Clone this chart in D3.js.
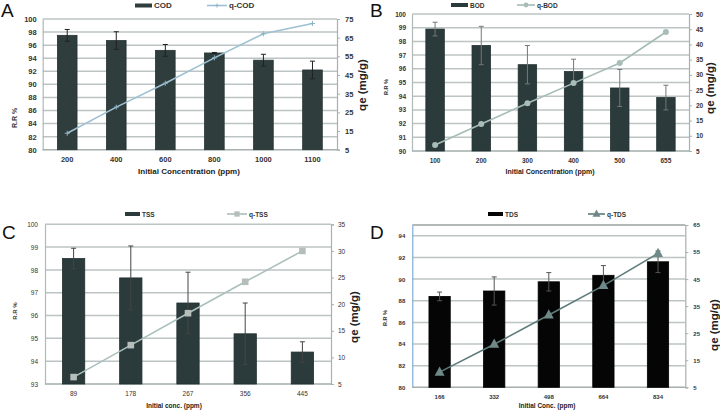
<!DOCTYPE html>
<html><head><meta charset="utf-8">
<script src="https://cdn.jsdelivr.net/npm/d3@7"></script>
<style>
html,body{margin:0;padding:0;background:#fff;}
svg{display:block;font-family:"Liberation Sans",Arial,sans-serif;}
</style></head>
<body>
<svg id="c" width="720" height="411"></svg>
<script>
// Panel A
const catsA = ["200","400","600","800","1000","1100"];
const codRR = [97.5, 96.7, 95.2, 94.8, 93.7, 92.2];
const codErr = [0.9, 1.35, 0.9, 0.08, 0.9, 1.35];
const qCOD = [13.8, 27.8, 40.6, 54.2, 67.1, 72.6];
const leftTicksA = [80,82,84,86,88,90,92,94,96,98,100];
const rightTicksA = [5,15,25,35,45,55,65,75];
// Panel B
const catsB = ["100","200","300","400","500","655"];
const bodRR = [98.9, 97.7, 96.3, 95.8, 94.6, 93.9];
const bodErr = [0.5, 1.4, 1.4, 0.9, 1.35, 0.9];
const qBOD = [7.0, 13.9, 20.7, 27.3, 33.9, 44.1];
const leftTicksB = [90,91,92,93,94,95,96,97,98,99,100];
const rightTicksB = [5,10,15,20,25,30,35,40,45,50];
// Panel C
const catsC = ["89","178","267","356","445"];
const tssRR = [98.5, 97.65, 96.55, 95.2, 94.4];
const tssErr = [0.45, 1.4, 1.35, 1.35, 0.45];
const qTSS = [6.3, 12.3, 18.3, 24.2, 30.0];
const leftTicksC = [93,94,95,96,97,98,99,100];
const rightTicksC = [5,10,15,20,25,30,35];
// Panel D
const catsD = ["166","332","498","664","834"];
const tdsRR = [88.4, 88.9, 89.75, 90.35, 91.6];
const tdsErr = [0.4, 1.3, 0.85, 0.9, 1.0];
const qTDS = [10.6, 20.9, 31.7, 42.6, 54.5];
const leftTicksD = [80,82,84,86,88,90,92,94];
const rightTicksD = [5,15,25,35,45,55,65];

const svg = d3.select("#c");
const fmt = d3.format("d");

function panel(o){
  const g = svg.append("g");
  const x = d3.scaleBand().domain(o.cats).range([o.x0,o.x1]).paddingInner(0).paddingOuter(0);
  const yL = d3.scaleLinear().domain(o.lDom).range([o.y1,o.y0]);
  const yR = d3.scaleLinear().domain(o.rDom).range([o.y1,o.y0]);
  // gridlines
  g.append("g").selectAll("line").data(o.lTicks).join("line")
    .attr("x1",o.x0).attr("x2",o.x1)
    .attr("y1",d=>yL(d)).attr("y2",d=>yL(d))
    .attr("stroke","#bcc4c4").attr("stroke-width",1.5);
  if(o.topLine){
    g.append("line").attr("x1",o.x0).attr("x2",o.x1).attr("y1",o.y0).attr("y2",o.y0)
      .attr("stroke","#9aa0a0").attr("stroke-width",1.5);
  }
  // left axis
  const la = d3.axisLeft(yL).tickValues(o.lTicks).tickFormat(fmt).tickSize(0).tickPadding(o.lPad);
  const lg = g.append("g").attr("transform",`translate(${o.x0},0)`).call(la);
  lg.select(".domain").attr("stroke",o.leftAxisColor||"#b0b8b8").attr("stroke-width",1.2);
  lg.selectAll("text").attr("font-size",o.tickFs).attr("font-weight",o.tickFw).attr("fill","#333");
  // right axis
  const ra = d3.axisRight(yR).tickValues(o.rTicks).tickFormat(fmt).tickSize(3).tickPadding(o.rPad);
  const rg = g.append("g").attr("transform",`translate(${o.x1},0)`).call(ra);
  rg.select(".domain").attr("stroke","#a8b0b0").attr("stroke-width",1.2);
  rg.selectAll(".tick line").attr("stroke","#a8b0b0");
  rg.selectAll("text").attr("font-size",o.tickFs).attr("font-weight",o.tickFw).attr("fill","#333");
  // bottom line
  g.append("line").attr("x1",o.x0).attr("x2",o.x1).attr("y1",o.y1).attr("y2",o.y1)
    .attr("stroke","#a8b0b0").attr("stroke-width",1.2);
  // x tick labels
  g.append("g").selectAll("text").data(o.cats).join("text")
    .attr("x",d=>x(d)+x.bandwidth()/2).attr("y",o.xLabY)
    .attr("text-anchor","middle").attr("font-size",o.tickFs).attr("font-weight",o.tickFw).attr("fill","#333")
    .text(d=>d);
  // bars
  const bw = x.bandwidth()*o.barFrac;
  g.append("g").selectAll("rect").data(o.cats).join("rect")
    .attr("x",d=>x(d)+x.bandwidth()/2-bw/2).attr("width",bw)
    .attr("y",(d,i)=>yL(o.rr[i])).attr("height",(d,i)=>yL(o.lDom[0])-yL(o.rr[i]))
    .attr("fill",o.barColor).attr("stroke",o.barStroke).attr("stroke-width",0.8);
  // error bars
  const eg = g.append("g").attr("stroke",o.errColor).attr("stroke-width",1);
  o.cats.forEach((c,i)=>{
    const cx = x(c)+x.bandwidth()/2;
    const t = yL(o.rr[i]+o.err[i]), b = yL(o.rr[i]-o.err[i]);
    eg.append("line").attr("x1",cx).attr("x2",cx).attr("y1",t).attr("y2",b);
    eg.append("line").attr("x1",cx-2.5).attr("x2",cx+2.5).attr("y1",t).attr("y2",t);
    eg.append("line").attr("x1",cx-2.5).attr("x2",cx+2.5).attr("y1",b).attr("y2",b);
  });
  // line
  const line = d3.line().x((d,i)=>x(o.cats[i])+x.bandwidth()/2).y(d=>yR(d));
  g.append("path").datum(o.q).attr("d",line).attr("fill","none")
    .attr("stroke",o.lineColor).attr("stroke-width",o.lineW);
  const mg = g.append("g");
  o.q.forEach((v,i)=>{
    const cx = x(o.cats[i])+x.bandwidth()/2, cy = yR(v);
    marker(mg,o.marker,cx,cy,o.markColor,o.markSize);
  });
  // legend
  const lgY = o.legY;
  g.append("rect").attr("x",o.legSw[0]).attr("y",lgY-2).attr("width",o.legSw[1]-o.legSw[0]).attr("height",4)
    .attr("fill",o.barColor);
  g.append("text").attr("x",o.legSw[1]+2).attr("y",lgY+2.8).attr("font-size",o.legFs).attr("font-weight","bold")
    .attr("fill","#333").text(o.barName);
  g.append("line").attr("x1",o.legLn[0]).attr("x2",o.legLn[1]).attr("y1",lgY).attr("y2",lgY)
    .attr("stroke",o.lineColor).attr("stroke-width",o.lineW);
  marker(g,o.marker,(o.legLn[0]+o.legLn[1])/2,lgY,o.markColor,o.markSize*0.8);
  g.append("text").attr("x",o.legLn[1]+2).attr("y",lgY+2.8).attr("font-size",o.legFs).attr("font-weight","bold")
    .attr("fill","#333").text(o.lineName);
  // titles
  g.append("text").attr("x",o.letter[0]).attr("y",o.letter[1]).attr("font-size",19).attr("fill","#111").text(o.letterT);
  g.append("text").attr("transform",`translate(${o.rrPos[0]},${o.rrPos[1]}) rotate(-90)`)
    .attr("text-anchor","middle").attr("font-size",o.rrFs).attr("font-weight","bold").attr("fill","#333").text("R.R %");
  g.append("text").attr("x",o.xtPos[0]).attr("y",o.xtPos[1]).attr("text-anchor","middle")
    .attr("font-size",o.xtFs).attr("font-weight","bold").attr("fill","#222").text(o.xTitle);
  g.append("text").attr("transform",`translate(${o.qePos[0]},${o.qePos[1]}) rotate(-90)`)
    .attr("text-anchor","middle").attr("font-size",11.5).attr("font-weight","bold").attr("fill","#222").text("qe (mg/g)");
}

function marker(g,type,cx,cy,col,s){
  if(type==="plus"){
    g.append("path").attr("d",`M${cx-s},${cy}H${cx+s}M${cx},${cy-s}V${cy+s}`).attr("stroke",col).attr("stroke-width",1);
  } else if(type==="circle"){
    g.append("circle").attr("cx",cx).attr("cy",cy).attr("r",s).attr("fill",col);
  } else if(type==="square"){
    g.append("rect").attr("x",cx-s).attr("y",cy-s).attr("width",2*s).attr("height",2*s).attr("fill",col);
  } else if(type==="triangle"){
    g.append("path").attr("d",`M${cx},${cy-s*1.15}L${cx+s},${cy+s*0.7}L${cx-s},${cy+s*0.7}Z`).attr("fill",col);
  }
}

panel({cats:catsA, rr:codRR, err:codErr, q:qCOD, lDom:[80,100], rDom:[5,75], lTicks:leftTicksA, rTicks:rightTicksA,
  x0:42.7, x1:337, y0:19, y1:149.7, lPad:6, rPad:5, tickFs:7.5, tickFw:"bold", xLabY:162,
  barFrac:0.4, barColor:"#2f3d3d", barStroke:"#263232", errColor:"#222",
  lineColor:"#9ec0d2", lineW:1.6, marker:"plus", markColor:"#8ab2c8", markSize:2.5,
  legY:5.5, legSw:[135,152], legLn:[207,227], legFs:8, barName:"COD", lineName:"q-COD",
  letter:[1,17], letterT:"A", rrPos:[17,118], rrFs:7, xtPos:[189,174], xtFs:8, xTitle:"Initial Concentration (ppm)",
  qePos:[366,85]});

panel({cats:catsB, rr:bodRR, err:bodErr, q:qBOD, lDom:[90,100], rDom:[5,50], lTicks:leftTicksB, rTicks:rightTicksB,
  x0:412, x1:689, y0:14, y1:151, lPad:6, rPad:4, tickFs:6.5, tickFw:"bold", xLabY:163,
  barFrac:0.4, barColor:"#2b3a3a", barStroke:"#223030", errColor:"#777",
  lineColor:"#a6bcb7", lineW:1.6, marker:"circle", markColor:"#a8bdb8", markSize:3,
  legY:5, legSw:[451,468], legLn:[517,535], legFs:6.5, barName:"BOD", lineName:"q-BOD",
  letter:[370,17], letterT:"B", rrPos:[388,87], rrFs:5.5, xtPos:[550,174], xtFs:7, xTitle:"Initial Concentration  (ppm)",
  qePos:[714,88]});

panel({cats:catsC, rr:tssRR, err:tssErr, q:qTSS, lDom:[93,100], rDom:[5,35], lTicks:leftTicksC, rTicks:rightTicksC,
  x0:45, x1:331, y0:224.3, y1:384, lPad:7, rPad:4, tickFs:6.5, tickFw:"normal", xLabY:395.5,
  barFrac:0.39, barColor:"#2b3a3a", barStroke:"#223030", errColor:"#444",
  lineColor:"#a9c0bc", lineW:1.6, marker:"square", markColor:"#b5bebb", markSize:3.3,
  legY:214, legSw:[125,140], legLn:[227,247], legFs:6.5, barName:"TSS", lineName:"q-TSS",
  letter:[2,238.5], letterT:"C", rrPos:[17,311], rrFs:6, xtPos:[174,408], xtFs:6.5, xTitle:"Initial conc. (ppm)",
  qePos:[358,317]});

panel({cats:catsD, rr:tdsRR, err:tdsErr, q:qTDS, lDom:[80,95], rDom:[5,65], lTicks:leftTicksD, rTicks:rightTicksD,
  x0:412.3, x1:685.3, y0:225, y1:387.3, lPad:7, rPad:5, tickFs:6, tickFw:"bold", xLabY:399,
  barFrac:0.39, barColor:"#050505", barStroke:"#000", errColor:"#555",
  lineColor:"#5d7b7a", lineW:1.6, marker:"triangle", markColor:"#6e8987", markSize:5,
  legY:214, legSw:[488,503], legLn:[588,605], legFs:6.5, barName:"TDS", lineName:"q-TDS",
  letter:[370,238.5], letterT:"D", rrPos:[387,318], rrFs:5.5, xtPos:[547,408], xtFs:6.5, xTitle:"Initial Conc. (ppm)",
  qePos:[718,325], leftAxisColor:"#7fb0d8", topLine:true});
</script>
</body></html>
